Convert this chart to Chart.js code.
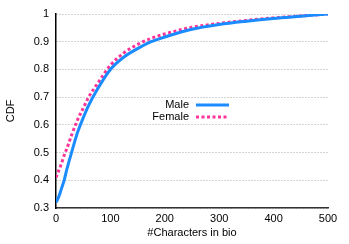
<!DOCTYPE html>
<html>
<head>
<meta charset="utf-8">
<script src="https://cdn.jsdelivr.net/npm/chart.js@4"></script>
<style>
  html, body { margin: 0; padding: 0; background: #fff; }
  #wrap { width: 349px; height: 244px; }
</style>
</head>
<body>
<div id="wrap"><canvas id="cdf" width="349" height="244"></canvas></div>
<script>
// values
const chars = [0, 5, 10, 15, 20, 30, 40, 50, 60, 75, 100, 125, 150, 175, 200, 250, 300, 350, 400, 450, 500]
const male = [0.32, 0.34, 0.37, 0.40, 0.44, 0.51, 0.575, 0.625, 0.67, 0.725, 0.80, 0.845, 0.875, 0.90, 0.917, 0.945, 0.962, 0.974, 0.984, 0.992, 1.0]
const female = [0.41, 0.435, 0.46, 0.49, 0.515, 0.57, 0.62, 0.66, 0.70, 0.745, 0.815, 0.86, 0.89, 0.912, 0.928, 0.952, 0.966, 0.977, 0.986, 0.993, 1.0]
const seriesNames = ['Male', 'Female']

const FONT = 'Liberation Sans, Arial, sans-serif'
const toPoints = ys => chars.map((x, i) => ({ x: x, y: ys[i] }))

// legend drawn like gnuplot: text on the left, line sample on the right
const sideLegend = {
  id: 'sideLegend',
  afterDraw (chart) {
    const ctx = chart.ctx
    ctx.save()
    ctx.font = '11px ' + FONT
    ctx.textAlign = 'right'
    ctx.textBaseline = 'middle'
    chart.data.datasets.forEach((ds, i) => {
      const y = 105 + i * 12
      ctx.fillStyle = '#000'
      ctx.fillText(ds.label, 189, y)
      ctx.strokeStyle = ds.borderColor
      ctx.lineWidth = ds.borderWidth
      ctx.setLineDash(ds.borderDash || [])
      ctx.beginPath()
      ctx.moveTo(196, y)
      ctx.lineTo(229, y)
      ctx.stroke()
    })
    ctx.restore()
  }
}

new Chart(document.getElementById('cdf'), {
  type: 'line',
  data: {
    datasets: [{
      label: seriesNames[0],
      data: toPoints(male),
      borderColor: '#1a8cff',
      borderWidth: 3,
      pointRadius: 0,
      cubicInterpolationMode: 'monotone'
    }, {
      label: seriesNames[1],
      data: toPoints(female),
      borderColor: '#ff3399',
      borderWidth: 3,
      borderDash: [3, 2.5],
      pointRadius: 0,
      cubicInterpolationMode: 'monotone'
    }]
  },
  options: {
    responsive: false,
    animation: false,
    layout: { padding: { top: 14, right: 21, left: 0, bottom: 0 } },
    plugins: { legend: { display: false }, tooltip: { enabled: false } },
    scales: {
      x: {
        type: 'linear',
        min: 0,
        max: 500,
        afterFit: s => { s.height = 36 },
        ticks: { stepSize: 100, padding: 4, color: '#000', font: { family: FONT, size: 11 } },
        grid: { display: false, drawTicks: false },
        border: { color: '#333', width: 1.5 },
        title: { display: true, text: '#Characters in bio', color: '#000', padding: { top: 2 }, font: { family: FONT, size: 11 } }
      },
      y: {
        min: 0.3,
        max: 1,
        afterFit: s => { s.width = 56 },
        ticks: {
          stepSize: 0.1,
          padding: 7,
          color: '#000',
          font: { family: FONT, size: 11 },
          callback: v => String(+v.toFixed(1))
        },
        grid: { color: '#a8a8a8', lineWidth: 1, drawTicks: false },
        // in v4 border.dash styles the grid lines
        border: { color: '#000', width: 1.5, dash: [1, 2] },
        title: { display: true, text: 'CDF', color: '#000', padding: { bottom: 4 }, font: { family: FONT, size: 11 } }
      }
    }
  },
  plugins: [sideLegend]
})
</script>
</body>
</html>
